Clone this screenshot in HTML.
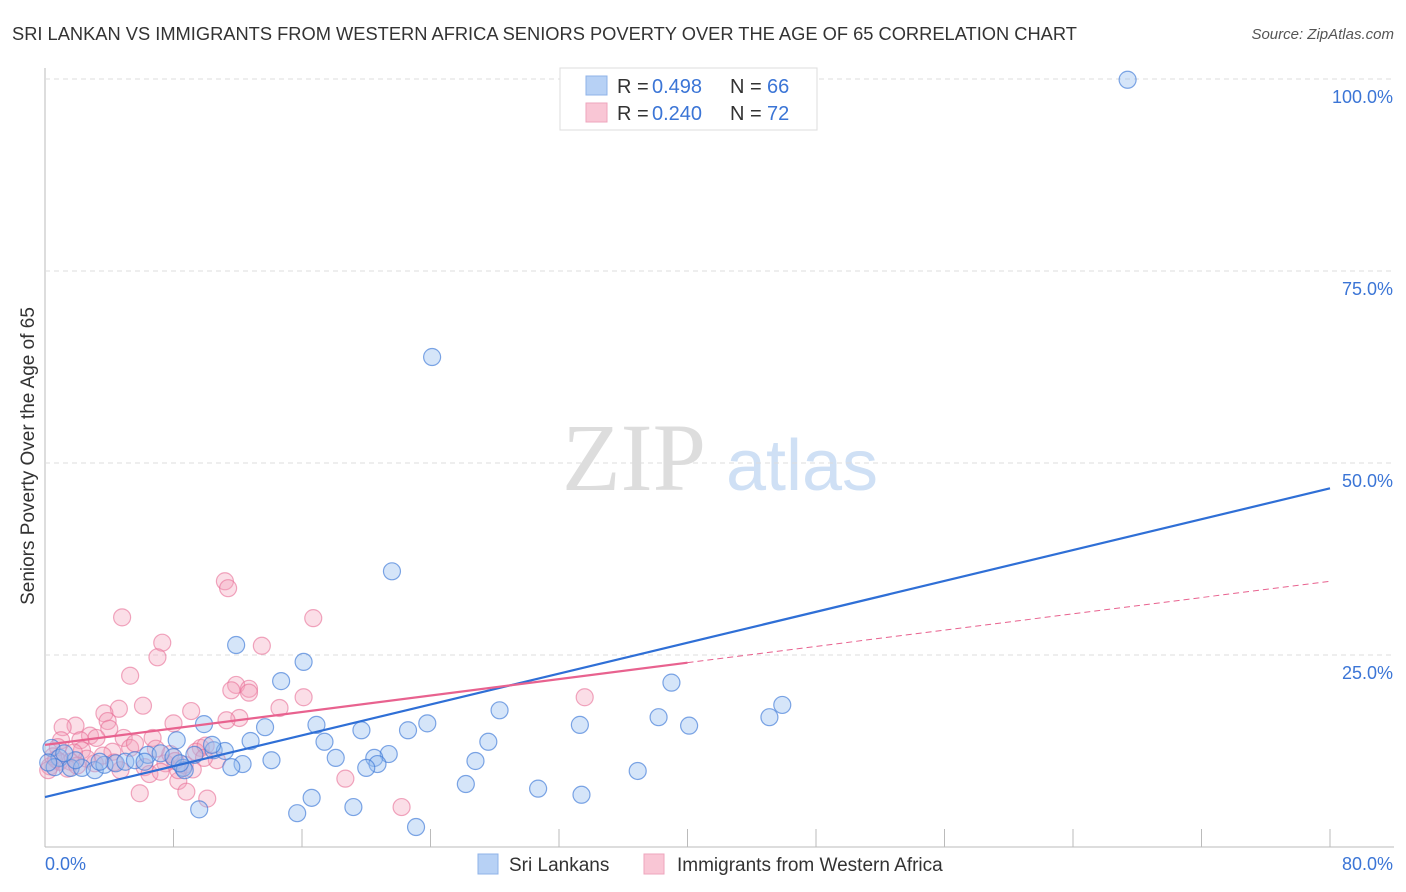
<!DOCTYPE html>
<html><head><meta charset="utf-8"><style>
body{margin:0;background:#fff;font-family:"Liberation Sans",sans-serif;}
svg{display:block}
</style></head><body>
<svg id="chart" width="1406" height="892" xmlns="http://www.w3.org/2000/svg">
<text x="12" y="40" font-size="18.3" fill="#333">SRI LANKAN VS IMMIGRANTS FROM WESTERN AFRICA SENIORS POVERTY OVER THE AGE OF 65 CORRELATION CHART</text>
<text x="1394" y="39" font-size="15" fill="#555" font-style="italic" text-anchor="end">Source: ZipAtlas.com</text>
<text x="34" y="456" font-size="19" fill="#333" text-anchor="middle" transform="rotate(-90 34 456)">Seniors Poverty Over the Age of 65</text>
<g>
<text x="634" y="490" font-size="96" fill="#ddd" font-family="Liberation Serif,serif" text-anchor="middle">ZIP</text>
<text x="802" y="490" font-size="72" fill="#cfe0f5" text-anchor="middle">atlas</text>
</g>
<g id="grid"></g><g id="marks"></g><g id="lines"></g>
<g>
<rect x="560" y="68" width="257" height="62" fill="#fff" stroke="#ddd"/>
<rect x="586" y="76" width="21" height="19" fill="#b7d1f5" stroke="#8fb3e8"/>
<rect x="586" y="103" width="21" height="19" fill="#f9c6d5" stroke="#eea5bd"/>
<text x="617" y="93" font-size="20" fill="#333">R =</text>
<text x="652" y="93" font-size="20" fill="#3b75d6">0.498</text>
<text x="730" y="93" font-size="20" fill="#333">N =</text>
<text x="767" y="93" font-size="20" fill="#3b75d6">66</text>
<text x="617" y="120" font-size="20" fill="#333">R =</text>
<text x="652" y="120" font-size="20" fill="#3b75d6">0.240</text>
<text x="730" y="120" font-size="20" fill="#333">N =</text>
<text x="767" y="120" font-size="20" fill="#3b75d6">72</text>
</g>
<text x="45" y="870" font-size="18" fill="#3b75d6">0.0%</text>
<text x="1393" y="870" font-size="18" fill="#3b75d6" text-anchor="end">80.0%</text>
<g>
<rect x="478" y="854" width="20" height="20" fill="#b7d1f5" stroke="#8fb3e8"/>
<text x="509" y="871" font-size="19" fill="#333">Sri Lankans</text>
<rect x="644" y="854" width="20" height="20" fill="#f9c6d5" stroke="#eea5bd"/>
<text x="677" y="871" font-size="19" fill="#333">Immigrants from Western Africa</text>
</g>
</svg>
<script>
const yTicks=[25,50,75,100];
const yTickLabels=["25.0%","50.0%","75.0%","100.0%"];
const xTicks=[0,8,16,24,32,40,48,56,64,72,80];
const blueX=[67.4,24.1,21.6,11.9,16.1,14.7,39.0,45.9,45.1,38.2,40.1,33.3,28.3,23.8,22.6,19.7,16.9,13.7,9.9,12.8,17.4,27.6,21.4,20.5,18.1,14.1,12.3,11.6,26.8,20.7,20.0,36.9,26.2,30.7,33.4,16.6,19.2,15.7,9.6,23.1,0.4,0.9,1.6,0.6,2.3,3.1,3.7,4.4,5.0,5.6,6.4,7.2,8.0,8.2,8.6,8.7,9.3,10.5,11.2,10.4,8.4,6.2,3.4,1.9,0.2,1.2];
const blueY=[99.9,63.8,35.9,26.3,24.1,21.6,21.4,18.5,16.9,16.9,15.8,15.9,17.8,16.1,15.2,15.2,15.9,15.6,16.0,13.8,13.7,13.7,12.1,11.6,11.6,11.3,10.8,10.4,11.2,10.8,10.3,9.9,8.2,7.6,6.8,6.4,5.2,4.4,4.9,2.6,12.9,11.6,10.3,10.4,10.3,10.0,10.7,10.9,11.1,11.3,12.0,12.2,11.7,13.9,10.3,10.0,12.0,12.6,12.5,13.3,10.9,11.1,11.1,11.3,11.0,12.2];
const pinkX=[11.2,11.4,4.8,16.7,7.3,13.5,7.0,5.3,11.9,11.6,12.7,12.7,16.1,33.6,6.1,4.6,3.7,9.1,14.6,12.1,11.3,3.9,1.9,1.1,4.0,8.0,2.8,3.2,4.9,2.2,6.7,1.0,0.8,2.3,4.2,5.3,9.7,9.4,10.0,0.9,0.3,6.2,7.5,10.7,8.7,1.6,8.3,6.5,18.7,5.9,8.8,10.1,22.2,8.3,4.7,3.1,0.5,1.4,2.6,7.8,9.9,0.2,1.8,3.6,5.6,6.9,8.1,9.2,0.7,2.0,4.3,7.2];
const pinkY=[34.6,33.7,29.9,29.8,26.6,26.2,24.7,22.3,21.1,20.4,20.6,20.1,19.5,19.5,18.4,18.0,17.4,17.7,18.1,16.8,16.5,16.4,15.8,15.6,15.4,16.1,14.5,14.2,14.2,13.9,14.2,13.9,13.0,12.6,12.4,12.9,12.9,12.4,13.2,11.1,10.5,10.4,10.9,11.3,10.7,11.1,8.6,9.5,8.9,7.0,7.2,6.3,5.2,10.0,10.0,10.9,11.8,10.2,11.5,12.1,11.6,10.0,12.3,11.9,13.5,12.8,11.2,10.1,11.4,10.6,11.0,9.8];
const blueFit=[6.5,46.7];
const pinkFit=[13.3,24.0,34.6];
const X0=45,X1=1330,Y0=847,Y100=79;
const sx=v=>X0+(v/80)*(X1-X0);
const sy=v=>Y0-(v/100)*(Y0-Y100);
const NS="http://www.w3.org/2000/svg";
function mk(tag,attrs,parent){const e=document.createElementNS(NS,tag);for(const k in attrs)e.setAttribute(k,attrs[k]);parent.appendChild(e);return e;}
const grid=document.getElementById('grid'),marks=document.getElementById('marks'),lines=document.getElementById('lines');
let ax=mk('line',{x1:X0,y1:68,x2:X0,y2:Y0,stroke:'#bbb'},grid);


let bx=mk('line',{x1:X0,y1:Y0,x2:1394,y2:Y0,stroke:'#bbb'},grid);


yTicks.forEach((t,i)=>{
 const g=mk('line',{x1:X0,y1:sy(t),x2:1394,y2:sy(t),stroke:'#ddd','stroke-dasharray':'5,4'},grid);
 
 
 const tx=mk('text',{x:1393,y:sy(t)+24,'font-size':18,fill:'#3b75d6','text-anchor':'end'},grid);
 tx.textContent=yTickLabels[i];
 
 
});
xTicks.forEach(t=>{
 const l=mk('line',{x1:sx(t),y1:Y0,x2:sx(t),y2:Y0-18,stroke:'#bbb'},grid);
 
 
});
pinkX.forEach((v,i)=>{
 const c=mk('circle',{cx:sx(v),cy:sy(pinkY[i]),r:8.5,fill:'rgba(244,160,185,0.35)',stroke:'rgba(232,110,150,0.6)','stroke-width':1.2},marks);
 
 
});
blueX.forEach((v,i)=>{
 const c=mk('circle',{cx:sx(v),cy:sy(blueY[i]),r:8.5,fill:'rgba(150,190,240,0.4)',stroke:'rgba(60,120,215,0.65)','stroke-width':1.2},marks);
 
 
});
let bl=mk('line',{x1:sx(0),y1:sy(blueFit[0]),x2:sx(80),y2:sy(blueFit[1]),stroke:'#2f6fd6','stroke-width':2.2},lines);


let pl=mk('line',{x1:sx(0),y1:sy(pinkFit[0]),x2:sx(40),y2:sy(pinkFit[1]),stroke:'#e8628f','stroke-width':2.2},lines);


let pd=mk('line',{x1:sx(40),y1:sy(pinkFit[1]),x2:sx(80),y2:sy(pinkFit[2]),stroke:'#e8628f','stroke-width':1,'stroke-dasharray':'6,4'},lines);


</script>
</body></html>
